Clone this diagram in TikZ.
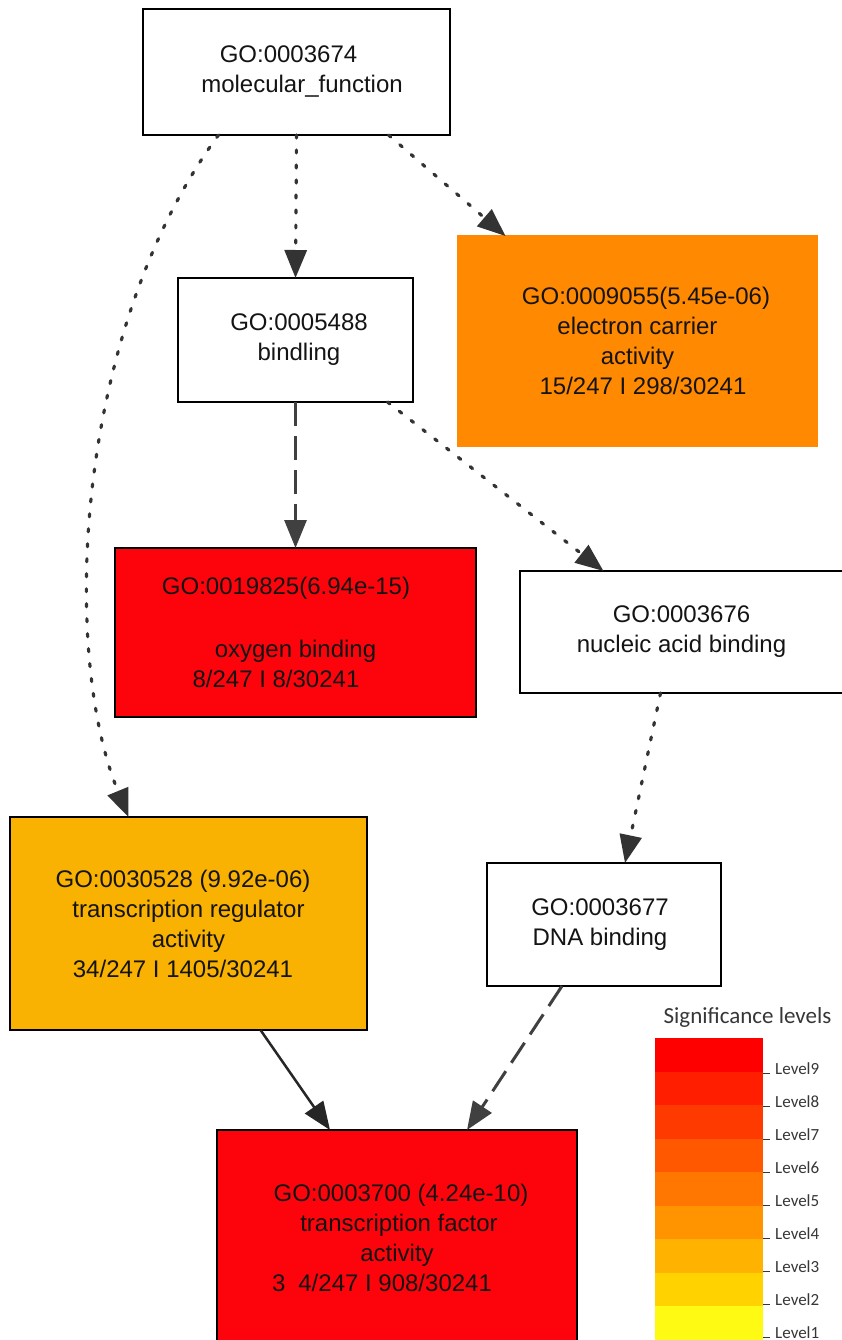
\documentclass[tikz,border=0pt]{standalone}
\usepackage{fontspec}
\setmainfont{Liberation Sans}
\newfontfamily\legendfont{Carlito}
\usetikzlibrary{arrows.meta}

\definecolor{goRed}{RGB}{253,4,12}
\definecolor{goOrange}{RGB}{255,137,0}
\definecolor{goAmber}{RGB}{249,177,2}
\definecolor{goText}{RGB}{20,20,20}
\definecolor{legendText}{RGB}{55,55,55}
\definecolor{levelNine}{RGB}{255,0,0}
\definecolor{levelEight}{RGB}{255,30,0}
\definecolor{levelSeven}{RGB}{255,58,0}
\definecolor{levelSix}{RGB}{255,88,0}
\definecolor{levelFive}{RGB}{255,118,0}
\definecolor{levelFour}{RGB}{255,148,0}
\definecolor{levelThree}{RGB}{255,178,0}
\definecolor{levelTwo}{RGB}{255,210,0}
\definecolor{levelOne}{RGB}{255,250,20}

\begin{document}
\begin{tikzpicture}[x=1pt,y=-1pt,
      term/.style={draw=black, line width=1.6pt, fill=white, inner sep=0pt,
        outer sep=0pt, align=center, text=goText,
        font=\fontsize{24}{30}\selectfont},
      hit/.style={term, fill=goRed},
      dotedge/.style={draw=black!80, line width=3.2pt, line cap=round,
        dash pattern=on 3pt off 12pt,
        -{Triangle[length=28pt,width=22pt]}},
      dashedge/.style={draw=black!75, line width=3pt,
        dash pattern=on 24pt off 10pt,
        -{Triangle[length=28pt,width=22pt]}},
      solidedge/.style={draw=black!85, line width=2.5pt,
        -{Triangle[length=28pt,width=22pt]}},
      lvtitle/.style={font=\legendfont\fontsize{23}{26}\selectfont,
        text=legendText, anchor=base},
      lvlabel/.style={font=\legendfont\fontsize{17}{19}\selectfont,
        text=legendText, anchor=base west, inner sep=0pt}]
      \useasboundingbox (0,0) rectangle (841,1340);
      \fill[white] (0,0) rectangle (841,1340);

      \node[term, minimum width=307pt, minimum height=126pt] (mf)
        at (296.5,72)
        {GO:0003674\hspace*{16pt}\\\hspace*{11pt}molecular\_function};
      \node[term, minimum width=235pt, minimum height=124pt] (bd)
        at (295.5,340)
        {\hspace*{7pt}GO:0005488\\\hspace*{7pt}bindling};
      \node[term, draw=goOrange, fill=goOrange, minimum width=359pt,
        minimum height=210pt] (ec) at (637.5,341)
        {\hspace*{17pt}GO:0009055(5.45e-06)\\electron carrier\hspace*{9pt}\\
         activity\hspace*{29pt}\\\hspace*{11pt}15/247 I 298/30241};
      \node[hit, minimum width=361pt, minimum height=169pt] (ox)
        at (295.5,632.5)
        {GO:0019825(6.94e-15)\hspace*{19pt}\\[33pt]
         oxygen binding\hspace*{43pt}\\8/247 I 8/30241\hspace*{39pt}};
      \node[term, minimum width=323pt, minimum height=122pt] (na)
        at (681.5,632)
        {GO:0003676\\nucleic acid binding};
      \node[term, fill=goAmber, minimum width=357pt, minimum height=213pt]
        (tr) at (188.5,923.5)
        {GO:0030528 (9.92e-06)\hspace*{11pt}\\
         transcription regulator\hspace*{11pt}\\activity\hspace*{39pt}\\
         34/247 I 1405/30241\hspace*{11pt}};
      \node[term, minimum width=234pt, minimum height=123pt] (dn)
        at (604,924.5)
        {GO:0003677\hspace*{8pt}\\DNA binding\hspace*{8pt}};
      \node[hit, minimum width=360pt, minimum height=216pt] (tf)
        at (397,1238)
        {\hspace*{8pt}GO:0003700 (4.24e-10)\\
         \hspace*{4pt}transcription factor\\activity\\
         3\hspace{13pt}4/247 I 908/30241\hspace*{30pt}};

      \draw[dotedge] (mf.south) -- (bd.north);
      \draw[dotedge] ([xshift=92pt]mf.south) -- ([xshift=-132pt]ec.north);
      \draw[dotedge] ([xshift=-78pt]mf.south)
        .. controls (75,330) and (60,650) .. ([xshift=-60pt]tr.north);
      \draw[dashedge] (bd.south) -- (ox.north);
      \draw[dotedge] ([xshift=92pt]bd.south) -- ([xshift=-78pt]na.north);
      \draw[dotedge] ([xshift=-21pt]na.south) -- ([xshift=21pt]dn.north);
      \draw[dashedge] ([xshift=-42pt]dn.south) -- ([xshift=70pt]tf.north);
      \draw[solidedge] ([xshift=72pt]tr.south) -- ([xshift=-67pt]tf.north);

      \node[lvtitle] (lvhead) at (747.5,1023) {Significance levels};
      \foreach[count=\i from 0] \c in {levelNine,levelEight,levelSeven,
          levelSix,levelFive,levelFour,levelThree,levelTwo,levelOne}{
        \fill[\c] (655,{1038+33.5*\i}) rectangle ++(108,34);}
      \foreach[count=\i from 0] \n in {9,8,7,6,5,4,3,2,1}{
        \draw[legendText, line width=1pt] (763,{1073+33*\i}) -- ++(7,0);
        \node[lvlabel] (lv\n) at (775,{1074+33*\i}) {Level\n};}
    \end{tikzpicture}
\end{document}
